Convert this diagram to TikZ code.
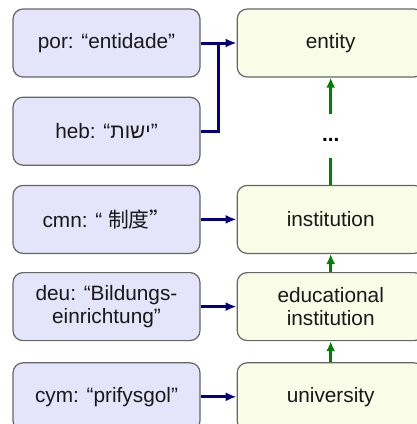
\documentclass[tikz,border=0pt]{standalone}
\usepackage{fontspec}
\setmainfont{Liberation Sans}
\newfontfamily\cjk{Noto Sans CJK SC}
\newfontfamily\hebfont[Script=Hebrew]{Liberation Sans}
\TeXXeTstate=1
\usetikzlibrary{positioning,arrows.meta,calc}
\definecolor{wordfill}{HTML}{E4E4FA}
\definecolor{conceptfill}{HTML}{F9FDE8}
\definecolor{linkblue}{HTML}{000080}
\definecolor{isagreen}{HTML}{008000}
\begin{document}
\begin{tikzpicture}[
    font=\fontsize{10.4}{11.5}\selectfont,
    word/.style={draw=black!60, line width=0.6pt, fill=wordfill, rounded corners=5pt,
      minimum width=93.5pt, minimum height=34pt, align=center, text=black!90},
    concept/.style={word, fill=conceptfill},
    tolink/.style={draw=linkblue, line width=1.5pt, -{Latex[length=5.5pt,width=4.5pt]}},
    isa/.style={draw=isagreen, line width=1.5pt, -{Latex[length=5pt,width=4.5pt]}}
  ]
  \useasboundingbox (0,0) rectangle (208.5pt,-212pt);

  % words on the left
  \node[word] (por) at (53.25pt,-21.5pt) {por: “entidade”};
  \node[word, below=9.5pt of por] (heb) {heb: “{\hebfont\beginR ישות\endR}”};
  \node[word, below=9.5pt of heb] (cmn) {cmn: “ {\cjk 制度”}};
  \node[word, below=9pt of cmn] (deu) {deu: “Bildungs-\\einrichtung”};
  \node[word, below=10.5pt of deu] (cym) {cym: “prifysgol”};

  % concepts on the right
  \node[concept, right=18pt of por] (entity) {entity};
  \node[concept, right=18pt of cmn] (inst) {institution};
  \node[concept, right=18pt of deu] (edu) {educational\\institution};
  \node[concept, right=18pt of cym] (univ) {university};
  \node[font=\fontsize{10.4}{11.5}\selectfont\bfseries, inner sep=0pt] (dots) at ($(entity.south)+(0,-31pt)$) {...};
  \coordinate (dotstop) at ($(dots.center)+(0,13pt)$);
  \coordinate (dotsbot) at ($(dots.center)+(0,-9pt)$);

  \coordinate (join) at ($(por.east)!0.5!(entity.west)$);
  \draw[tolink] (por) -- (entity);
  \draw[linkblue, line width=1.5pt] (heb.east) -| (join);
  \draw[tolink] (cmn) -- (inst);
  \draw[tolink] (deu) -- (edu);
  \draw[tolink] (cym) -- (univ);

  \draw[isa] (dotstop) -- (entity);
  \draw[isagreen, line width=1.5pt] (inst.north) -- (dotsbot);
  \draw[isa] (univ) -- (edu);
  \draw[isa] (edu) -- (inst);
\end{tikzpicture}
\end{document}
